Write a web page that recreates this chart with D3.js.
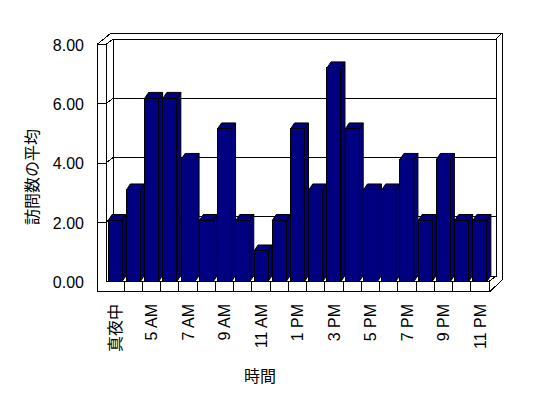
<!DOCTYPE html>
<html>
<head>
<meta charset="utf-8">
<script src="https://cdn.jsdelivr.net/npm/d3@7"></script>
<style>
  body { margin: 0; background: #fff; }
  svg text { font-family: "Liberation Sans", "Noto Sans CJK JP", sans-serif; fill: #000; }
</style>
</head>
<body>
<div id="chart"></div>
<script>
// hours of the day (真夜中 = midnight)
const hours = ["真夜中", "4 AM", "5 AM", "6 AM", "7 AM", "8 AM", "9 AM", "10 AM", "11 AM",
    "12 PM", "1 PM", "2 PM", "3 PM", "4 PM", "5 PM", "6 PM", "7 PM", "8 PM", "9 PM", "10 PM", "11 PM"];
// average number of visits
const visits = [2.06, 3.09, 6.18, 6.18, 4.12, 2.06, 5.15, 2.06, 1.03, 2.06, 5.15,
    3.09, 7.21, 5.15, 3.09, 3.09, 4.12, 2.06, 4.12, 2.06, 2.06];
const yTicks = [0, 2, 4, 6, 8];
const shownHours = hours.filter((d, i) => i % 2 === 0);

const width = 548, height = 398;

const svg = d3.select("#chart").append("svg")
    .attr("width", width)
    .attr("height", height);

// front plane scales
const x = d3.scaleBand()
    .domain(hours)
    .range([106, 489])
    .paddingInner(0.232)
    .paddingOuter(0.116);

const y = d3.scaleLinear()
    .domain([0, 8])
    .range([281.5, 44.5]);

// depth offsets
const dWall = {x: 7, y: -5.5};   // front -> back wall
const dOut = {x: 6, y: -6};      // back wall thickness
const dBar = {x: 4, y: -6};      // bar depth
const wallT = 9;                 // left wall / floor thickness

const x0 = x.range()[0], x1 = x.range()[1];
const yTop = y(8), yBase = y(0);
const bx0 = x0 + dWall.x, bx1 = x1 + dWall.x;
const yb = v => y(v) + dWall.y;

const frame = svg.append("g")
    .attr("fill", "none")
    .attr("stroke", "#000")
    .attr("stroke-width", 1)
    .attr("shape-rendering", "crispEdges");

const line = d3.line();

// outer silhouette
frame.append("path")
    .attr("fill", "#fff")
    .attr("d", line([
        [x0 - wallT, yTop],
        [bx0 + dOut.x - 8, yTop + dWall.y + dOut.y],
        [bx1 + dOut.x, yTop + dWall.y + dOut.y],
        [bx1 + dOut.x, yb(0) + dOut.y + 10],
        [x1 + 1, yBase + wallT + 1],
        [x0 - wallT, yBase + wallT + 1]
    ]) + "Z");

// back wall inner face and floor back edge
frame.append("path")
    .attr("d", line([
        [bx0, yb(0)], [bx0, yb(8)], [bx1, yb(8)], [bx1, yb(0)], [bx0, yb(0)]
    ]));
frame.append("path")
    .attr("d", line([[bx1, yb(8)], [bx1 + dOut.x, yb(8) + dOut.y]]));

// left wall front face and top
frame.append("path")
    .attr("d", line([[x0 - wallT, yTop], [x0, yTop], [bx0, yb(8)]]));
frame.append("path")
    .attr("d", line([[x0, yTop], [x0, yBase], [x1, yBase], [x1, yBase + wallT + 1]]));
frame.append("path")
    .attr("d", line([[x1, yBase], [bx1, yb(0)]]));

// gridlines: tick across wall face, diagonal on wall, line on back wall
yTicks.filter(d => d > 0 && d < 8).forEach(v => {
    frame.append("path")
        .attr("d", line([[x0 - wallT, y(v)], [x0, y(v)], [bx0, yb(v)], [bx1, yb(v)]]));
});

// floor front face divisions
frame.selectAll(".floor-tick")
    .data(hours.slice(1))
    .join("line")
    .attr("class", "floor-tick")
    .attr("x1", d => x(d) - x.step() * x.paddingInner() / 2)
    .attr("x2", d => x(d) - x.step() * x.paddingInner() / 2)
    .attr("y1", yBase)
    .attr("y2", yBase + wallT + 1);

// bars
const bars = svg.append("g")
    .attr("fill", "#000080")
    .attr("stroke", "#000")
    .attr("stroke-width", 1)
    .attr("stroke-linejoin", "miter")
    .selectAll("g")
    .data(hours.map((h, i) => ({h: h, v: visits[i]})))
    .join("g");

bars.append("path")   // side face
    .attr("d", d => {
        const xr = x(d.h) + x.bandwidth();
        return line([[xr, y(d.v)], [xr + dBar.x, y(d.v) + dBar.y],
            [xr + dBar.x, yBase + dBar.y], [xr, yBase]]) + "Z";
    });
bars.append("path")   // top face
    .attr("d", d => {
        const xl = x(d.h), xr = xl + x.bandwidth();
        return line([[xl, y(d.v)], [xl + dBar.x, y(d.v) + dBar.y],
            [xr + dBar.x, y(d.v) + dBar.y], [xr, y(d.v)]]) + "Z";
    });
bars.append("rect")   // front face
    .attr("shape-rendering", "crispEdges")
    .attr("x", d => x(d.h))
    .attr("y", d => y(d.v))
    .attr("width", x.bandwidth())
    .attr("height", d => yBase - y(d.v));

// y axis labels
const yAxis = d3.axisLeft(y)
    .tickValues(yTicks)
    .tickFormat(d3.format(".2f"))
    .tickSize(0)
    .tickPadding(13);

svg.append("g")
    .attr("transform", `translate(${x0 - wallT}, 0)`)
    .call(yAxis)
    .call(g => g.select(".domain").remove())
    .call(g => g.selectAll("text")
        .attr("font-size", 16)
        .attr("font-family", null)
        .attr("dy", "0.36em"));

// x axis labels (every other hour)
const xAxis = d3.axisBottom(x)
    .tickValues(shownHours)
    .tickSize(0);

svg.append("g")
    .attr("transform", "translate(0, 304)")
    .call(xAxis)
    .call(g => g.select(".domain").remove())
    .call(g => g.selectAll("text")
        .attr("font-size", 16)
        .attr("font-family", null)
        .attr("transform", "rotate(-90)")
        .attr("text-anchor", "end")
        .attr("x", 0)
        .attr("y", 0)
        .attr("dy", "0.36em"));

// axis titles
svg.append("text")
    .attr("transform", "translate(38, 177) rotate(-90)")
    .attr("text-anchor", "middle")
    .attr("font-size", 16)
    .text("訪問数の平均");

svg.append("text")
    .attr("x", 260)
    .attr("y", 382)
    .attr("text-anchor", "middle")
    .attr("font-size", 16)
    .text("時間");
</script>
</body>
</html>
